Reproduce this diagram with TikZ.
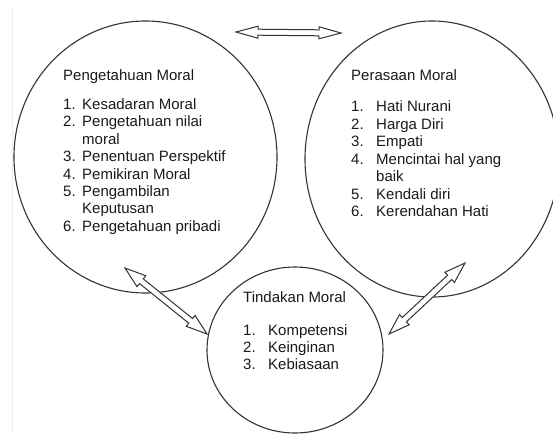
\documentclass[tikz,border=0pt]{standalone}
\usepackage{fontspec}
\setmainfont{Liberation Sans}
\usetikzlibrary{shapes.geometric,calc}
\definecolor{ln}{HTML}{333333}
\definecolor{tx}{HTML}{1A1A1A}
\newcommand\dblarrow[5]{%
  \draw[arrowshape] (#1)
    -- ($(#1)!#3!(#2)!#4!90:(#2)$)
    -- ($(#1)!#3!(#2)!#5!90:(#2)$)
    -- ($(#2)!#3!(#1)!#5!-90:(#1)$)
    -- ($(#2)!#3!(#1)!#4!-90:(#1)$)
    -- (#2)
    -- ($(#2)!#3!(#1)!#4!90:(#1)$)
    -- ($(#2)!#3!(#1)!#5!90:(#1)$)
    -- ($(#1)!#3!(#2)!#5!-90:(#2)$)
    -- ($(#1)!#3!(#2)!#4!-90:(#2)$)
    -- cycle;}
\begin{document}
\begin{tikzpicture}[x=1pt,y=-1pt,
  font=\fontsize{15}{17.4}\selectfont,
  circ/.style={ellipse,draw=ln,line width=1.1pt,inner sep=0pt},
  lbl/.style={anchor=base west,inner sep=0pt,text=tx},
  arrowshape/.style={draw=ln,fill=white,line width=1pt,line join=miter}]
\useasboundingbox (0,0) rectangle (553,434);
\begin{scope}
\clip (0,0) rectangle (553,434);
\draw[gray!15,line width=0.8pt] (12,8) -- (12,434);
\node[circ,minimum width=263pt,minimum height=272pt] (K) at (145.5,157) {};
\node[circ,minimum width=254pt,minimum height=276pt] (F) at (432,159) {};
\node[circ,minimum width=176pt,minimum height=166pt] (T) at (295,350) {};
% left texts
\node[lbl] (Ktitle) at (63,80) {Pengetahuan Moral};
\foreach \n/\t [count=\i] in {1./Kesadaran Moral,2./Pengetahuan nilai,/moral,3./Penentuan Perspektif,4./Pemikiran Moral,5./Pengambilan,/Keputusan,6./Pengetahuan pribadi}{
  \node[lbl] (Kn\i) at (63,{109.5+17.4*(\i-1)}) {\n};
  \node[lbl] (Kt\i) at (82,{109.5+17.4*(\i-1)}) {\t};
}
% right texts
\node[lbl] (Ftitle) at (351,80) {Perasaan Moral};
\foreach \n/\t [count=\i] in {1./Hati Nurani,2./Harga Diri,3./Empati,4./Mencintai hal yang,/baik,5./Kendali diri,6./Kerendahan Hati}{
  \node[lbl] (Fn\i) at (351,{111.7+17.5*(\i-1)}) {\n};
  \node[lbl] (Ft\i) at (376,{111.7+17.5*(\i-1)}) {\t};
}
% bottom texts
\node[lbl] (Ttitle) at (243,302.7) {Tindakan Moral};
\foreach \n/\t [count=\i] in {1./Kompetensi,2./Keinginan,3./Kebiasaan}{
  \node[lbl] (Tn\i) at (243,{335+17*(\i-1)}) {\n};
  \node[lbl] (Tt\i) at (268,{335+17*(\i-1)}) {\t};
}
% arrows
\coordinate (a1) at (236,32);
\coordinate (a2) at (341,33);
\coordinate (b1) at (125,268);
\coordinate (b2) at (207,334);
\coordinate (c1) at (465,263);
\coordinate (c2) at (389,334);
\dblarrow{a1}{a2}{22pt}{6pt}{3pt}
\dblarrow{b1}{b2}{21pt}{7pt}{3pt}
\dblarrow{c1}{c2}{21pt}{7pt}{3pt}
\end{scope}
\end{tikzpicture}
\end{document}
